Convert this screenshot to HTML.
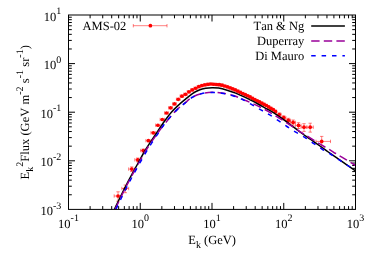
<!DOCTYPE html>
<html><head><meta charset="utf-8"><title>chart</title>
<style>html,body{margin:0;padding:0;background:#fff}svg{display:block;will-change:transform;transform:translateZ(0)}text{text-rendering:geometricPrecision;font-kerning:none}</style></head>
<body>
<svg width="374" height="262" viewBox="0 0 374 262">
<rect width="374" height="262" fill="#fff"/>
<path d="M90.10,209.40V206.10 M90.10,15.00V18.30 M102.73,209.40V206.10 M102.73,15.00V18.30 M111.70,209.40V206.10 M111.70,15.00V18.30 M118.65,209.40V206.10 M118.65,15.00V18.30 M124.33,209.40V206.10 M124.33,15.00V18.30 M129.14,209.40V206.10 M129.14,15.00V18.30 M133.30,209.40V206.10 M133.30,15.00V18.30 M136.97,209.40V206.10 M136.97,15.00V18.30 M140.25,209.40V202.90 M140.25,15.00V21.50 M161.85,209.40V206.10 M161.85,15.00V18.30 M174.48,209.40V206.10 M174.48,15.00V18.30 M183.45,209.40V206.10 M183.45,15.00V18.30 M190.40,209.40V206.10 M190.40,15.00V18.30 M196.08,209.40V206.10 M196.08,15.00V18.30 M200.89,209.40V206.10 M200.89,15.00V18.30 M205.05,209.40V206.10 M205.05,15.00V18.30 M208.72,209.40V206.10 M208.72,15.00V18.30 M212.00,209.40V202.90 M212.00,15.00V21.50 M233.60,209.40V206.10 M233.60,15.00V18.30 M246.23,209.40V206.10 M246.23,15.00V18.30 M255.20,209.40V206.10 M255.20,15.00V18.30 M262.15,209.40V206.10 M262.15,15.00V18.30 M267.83,209.40V206.10 M267.83,15.00V18.30 M272.64,209.40V206.10 M272.64,15.00V18.30 M276.80,209.40V206.10 M276.80,15.00V18.30 M280.47,209.40V206.10 M280.47,15.00V18.30 M283.75,209.40V202.90 M283.75,15.00V21.50 M305.35,209.40V206.10 M305.35,15.00V18.30 M317.98,209.40V206.10 M317.98,15.00V18.30 M326.95,209.40V206.10 M326.95,15.00V18.30 M333.90,209.40V206.10 M333.90,15.00V18.30 M339.58,209.40V206.10 M339.58,15.00V18.30 M344.39,209.40V206.10 M344.39,15.00V18.30 M348.55,209.40V206.10 M348.55,15.00V18.30 M352.22,209.40V206.10 M352.22,15.00V18.30 M68.50,194.77H71.80 M355.50,194.77H352.20 M68.50,186.21H71.80 M355.50,186.21H352.20 M68.50,180.14H71.80 M355.50,180.14H352.20 M68.50,175.43H71.80 M355.50,175.43H352.20 M68.50,171.58H71.80 M355.50,171.58H352.20 M68.50,168.33H71.80 M355.50,168.33H352.20 M68.50,165.51H71.80 M355.50,165.51H352.20 M68.50,163.02H71.80 M355.50,163.02H352.20 M68.50,160.80H75.00 M355.50,160.80H349.00 M68.50,146.17H71.80 M355.50,146.17H352.20 M68.50,137.61H71.80 M355.50,137.61H352.20 M68.50,131.54H71.80 M355.50,131.54H352.20 M68.50,126.83H71.80 M355.50,126.83H352.20 M68.50,122.98H71.80 M355.50,122.98H352.20 M68.50,119.73H71.80 M355.50,119.73H352.20 M68.50,116.91H71.80 M355.50,116.91H352.20 M68.50,114.42H71.80 M355.50,114.42H352.20 M68.50,112.20H75.00 M355.50,112.20H349.00 M68.50,97.57H71.80 M355.50,97.57H352.20 M68.50,89.01H71.80 M355.50,89.01H352.20 M68.50,82.94H71.80 M355.50,82.94H352.20 M68.50,78.23H71.80 M355.50,78.23H352.20 M68.50,74.38H71.80 M355.50,74.38H352.20 M68.50,71.13H71.80 M355.50,71.13H352.20 M68.50,68.31H71.80 M355.50,68.31H352.20 M68.50,65.82H71.80 M355.50,65.82H352.20 M68.50,63.60H75.00 M355.50,63.60H349.00 M68.50,48.97H71.80 M355.50,48.97H352.20 M68.50,40.41H71.80 M355.50,40.41H352.20 M68.50,34.34H71.80 M355.50,34.34H352.20 M68.50,29.63H71.80 M355.50,29.63H352.20 M68.50,25.78H71.80 M355.50,25.78H352.20 M68.50,22.53H71.80 M355.50,22.53H352.20 M68.50,19.71H71.80 M355.50,19.71H352.20 M68.50,17.22H71.80 M355.50,17.22H352.20" stroke="#000" stroke-width="1" fill="none"/>
<defs><clipPath id="c"><rect x="68.50" y="15.00" width="287.00" height="194.40"/></clipPath></defs>
<g clip-path="url(#c)">
<path d="M114.17,196.00H121.84 M114.17,194.30V197.70 M121.84,194.30V197.70 M118.04,191.80V201.25 M116.34,191.80H119.74 M116.34,201.25H119.74 M121.84,188.50H128.66 M121.84,186.80V190.20 M128.66,186.80V190.20 M125.28,185.00V192.70 M123.58,185.00H126.98 M123.58,192.70H126.98 M128.66,169.10H134.80 M128.66,167.40V170.80 M134.80,167.40V170.80 M131.76,166.90V171.56 M130.06,166.90H133.46 M130.06,171.56H133.46 M134.80,159.83H140.63 M134.80,158.13V161.53 M140.63,158.13V161.53 M137.74,158.03V161.80 M136.04,158.03H139.44 M136.04,161.80H139.44 M140.63,150.52H145.90 M140.63,148.82V152.22 M145.90,148.82V152.22 M143.29,149.02V152.14 M141.59,149.02H144.99 M141.59,152.14H144.99 M145.90,140.65H150.91 M145.90,138.95V142.35 M150.91,138.95V142.35 M150.91,132.82H155.64 M150.91,131.12V134.52 M155.64,131.12V134.52 M155.64,125.23H160.12 M155.64,123.53V126.93 M160.12,123.53V126.93 M160.12,119.51H164.49 M160.12,117.81V121.21 M164.49,117.81V121.21 M164.49,112.98H168.59 M164.49,111.28V114.68 M168.59,111.28V114.68 M168.59,107.81H172.57 M168.59,106.11V109.51 M172.57,106.11V109.51 M172.57,103.89H176.40 M172.57,102.19V105.59 M176.40,102.19V105.59 M176.40,99.29H180.08 M176.40,97.59V100.99 M180.08,97.59V100.99 M180.08,96.20H183.69 M180.08,94.50V97.90 M183.69,94.50V97.90 M183.69,94.31H187.21 M183.69,92.61V96.01 M187.21,92.61V96.01 M187.21,91.82H190.63 M187.21,90.12V93.52 M190.63,90.12V93.52 M190.63,89.95H193.93 M190.63,88.25V91.65 M193.93,88.25V91.65 M193.93,88.27H197.17 M193.93,86.57V89.97 M197.17,86.57V89.97 M197.17,86.68H200.34 M197.17,84.98V88.38 M200.34,84.98V88.38 M200.34,85.61H203.42 M200.34,83.91V87.31 M203.42,83.91V87.31 M203.42,84.80H206.45 M203.42,83.10V86.50 M206.45,83.10V86.50 M206.45,84.35H209.42 M206.45,82.65V86.05 M209.42,82.65V86.05 M209.42,84.01H212.32 M209.42,82.31V85.71 M212.32,82.31V85.71 M212.32,84.26H215.25 M212.32,82.56V85.96 M215.25,82.56V85.96 M215.25,84.51H217.93 M215.25,82.81V86.21 M217.93,82.81V86.21 M217.93,84.70H220.64 M217.93,83.00V86.40 M220.64,83.00V86.40 M220.64,85.18H223.34 M220.64,83.48V86.88 M223.34,83.48V86.88 M223.34,85.98H226.03 M223.34,84.28V87.68 M226.03,84.28V87.68 M226.03,86.80H228.69 M226.03,85.10V88.50 M228.69,85.10V88.50 M228.69,87.85H231.31 M228.69,86.15V89.55 M231.31,86.15V89.55 M231.31,88.87H233.88 M231.31,87.17V90.57 M233.88,87.17V90.57 M233.88,89.88H236.40 M233.88,88.18V91.58 M236.40,88.18V91.58 M236.40,91.06H238.99 M236.40,89.36V92.76 M238.99,89.36V92.76 M238.99,92.30H241.51 M238.99,90.60V94.00 M241.51,90.60V94.00 M241.51,93.49H243.95 M241.51,91.79V95.19 M243.95,91.79V95.19 M243.95,94.65H246.42 M243.95,92.95V96.35 M246.42,92.95V96.35 M246.42,95.75H248.80 M246.42,94.05V97.45 M248.80,94.05V97.45 M248.80,96.96H251.19 M248.80,95.26V98.66 M251.19,95.26V98.66 M251.19,98.25H253.58 M251.19,96.55V99.95 M253.58,96.55V99.95 M253.58,99.53H255.95 M253.58,97.83V101.23 M255.95,97.83V101.23 M255.95,100.81H258.29 M255.95,99.11V102.51 M258.29,99.11V102.51 M258.29,101.97H260.60 M258.29,100.27V103.67 M260.60,100.27V103.67 M260.60,103.13H262.93 M260.60,101.43V104.83 M262.93,101.43V104.83 M262.93,104.29H265.22 M262.93,102.59V105.99 M265.22,102.59V105.99 M265.22,105.50H267.50 M265.22,103.80V107.20 M267.50,103.80V107.20 M267.50,106.90H269.78 M267.50,105.20V108.60 M269.78,105.20V108.60 M269.78,108.30H272.08 M269.78,106.60V110.00 M272.08,106.60V110.00 M272.08,109.70H274.35 M272.08,108.00V111.40 M274.35,108.00V111.40 M274.35,111.38H276.63 M274.35,109.68V113.08 M276.63,109.68V113.08 M276.63,114.50H281.17 M276.63,112.80V116.20 M281.17,112.80V116.20 M279.20,112.90V116.23 M277.50,112.90H280.90 M277.50,116.23H280.90 M281.17,117.70H285.88 M281.17,116.00V119.40 M285.88,116.00V119.40 M283.70,115.80V119.79 M282.00,115.80H285.40 M282.00,119.79H285.40 M285.88,120.40H290.47 M285.88,118.70V122.10 M290.47,118.70V122.10 M288.30,118.30V122.73 M286.60,118.30H290.00 M286.60,122.73H290.00 M290.47,122.40H295.56 M290.47,120.70V124.10 M295.56,120.70V124.10 M293.10,120.00V125.11 M291.40,120.00H294.80 M291.40,125.11H294.80 M295.56,125.40H301.02 M295.56,123.70V127.10 M301.02,123.70V127.10 M298.50,122.70V128.50 M296.80,122.70H300.20 M296.80,128.50H300.20 M301.02,127.20H306.88 M301.02,125.50V128.90 M306.88,125.50V128.90 M304.00,123.70V131.40 M302.30,123.70H305.70 M302.30,131.40H305.70 M306.88,127.20H313.29 M306.88,125.50V128.90 M313.29,125.50V128.90 M310.20,123.20V132.14 M308.50,123.20H311.90 M308.50,132.14H311.90 M316.00,141.40H330.50 M316.00,139.70V143.10 M330.50,139.70V143.10 M321.70,136.40V147.96 M320.00,136.40H323.40 M320.00,147.96H323.40" stroke="#ff0000" stroke-width="0.5" fill="none"/>
<circle cx="118.04" cy="196.00" r="1.85" fill="#ff0000"/>
<circle cx="125.28" cy="188.50" r="1.85" fill="#ff0000"/>
<circle cx="131.76" cy="169.10" r="1.85" fill="#ff0000"/>
<circle cx="137.74" cy="159.83" r="1.85" fill="#ff0000"/>
<circle cx="143.29" cy="150.52" r="1.85" fill="#ff0000"/>
<circle cx="148.42" cy="140.65" r="1.85" fill="#ff0000"/>
<circle cx="153.29" cy="132.82" r="1.85" fill="#ff0000"/>
<circle cx="157.89" cy="125.23" r="1.85" fill="#ff0000"/>
<circle cx="162.31" cy="119.51" r="1.85" fill="#ff0000"/>
<circle cx="166.55" cy="112.98" r="1.85" fill="#ff0000"/>
<circle cx="170.59" cy="107.81" r="1.85" fill="#ff0000"/>
<circle cx="174.49" cy="103.89" r="1.85" fill="#ff0000"/>
<circle cx="178.25" cy="99.29" r="1.85" fill="#ff0000"/>
<circle cx="181.89" cy="96.20" r="1.85" fill="#ff0000"/>
<circle cx="185.46" cy="94.31" r="1.85" fill="#ff0000"/>
<circle cx="188.92" cy="91.82" r="1.85" fill="#ff0000"/>
<circle cx="192.28" cy="89.95" r="1.85" fill="#ff0000"/>
<circle cx="195.56" cy="88.27" r="1.85" fill="#ff0000"/>
<circle cx="198.76" cy="86.68" r="1.85" fill="#ff0000"/>
<circle cx="201.88" cy="85.61" r="1.85" fill="#ff0000"/>
<circle cx="204.94" cy="84.80" r="1.85" fill="#ff0000"/>
<circle cx="207.94" cy="84.35" r="1.85" fill="#ff0000"/>
<circle cx="210.87" cy="84.01" r="1.85" fill="#ff0000"/>
<circle cx="213.78" cy="84.26" r="1.85" fill="#ff0000"/>
<circle cx="216.59" cy="84.51" r="1.85" fill="#ff0000"/>
<circle cx="219.28" cy="84.70" r="1.85" fill="#ff0000"/>
<circle cx="221.99" cy="85.18" r="1.85" fill="#ff0000"/>
<circle cx="224.69" cy="85.98" r="1.85" fill="#ff0000"/>
<circle cx="227.36" cy="86.80" r="1.85" fill="#ff0000"/>
<circle cx="230.00" cy="87.85" r="1.85" fill="#ff0000"/>
<circle cx="232.60" cy="88.87" r="1.85" fill="#ff0000"/>
<circle cx="235.14" cy="89.88" r="1.85" fill="#ff0000"/>
<circle cx="237.70" cy="91.06" r="1.85" fill="#ff0000"/>
<circle cx="240.25" cy="92.30" r="1.85" fill="#ff0000"/>
<circle cx="242.73" cy="93.49" r="1.85" fill="#ff0000"/>
<circle cx="245.18" cy="94.65" r="1.85" fill="#ff0000"/>
<circle cx="247.61" cy="95.75" r="1.85" fill="#ff0000"/>
<circle cx="250.00" cy="96.96" r="1.85" fill="#ff0000"/>
<circle cx="252.39" cy="98.25" r="1.85" fill="#ff0000"/>
<circle cx="254.76" cy="99.53" r="1.85" fill="#ff0000"/>
<circle cx="257.12" cy="100.81" r="1.85" fill="#ff0000"/>
<circle cx="259.44" cy="101.97" r="1.85" fill="#ff0000"/>
<circle cx="261.77" cy="103.13" r="1.85" fill="#ff0000"/>
<circle cx="264.08" cy="104.29" r="1.85" fill="#ff0000"/>
<circle cx="266.36" cy="105.50" r="1.85" fill="#ff0000"/>
<circle cx="268.64" cy="106.90" r="1.85" fill="#ff0000"/>
<circle cx="270.93" cy="108.30" r="1.85" fill="#ff0000"/>
<circle cx="273.22" cy="109.70" r="1.85" fill="#ff0000"/>
<circle cx="275.49" cy="111.38" r="1.85" fill="#ff0000"/>
<circle cx="279.20" cy="114.50" r="1.85" fill="#ff0000"/>
<circle cx="283.70" cy="117.70" r="1.85" fill="#ff0000"/>
<circle cx="288.30" cy="120.40" r="1.85" fill="#ff0000"/>
<circle cx="293.10" cy="122.40" r="1.85" fill="#ff0000"/>
<circle cx="298.50" cy="125.40" r="1.85" fill="#ff0000"/>
<circle cx="304.00" cy="127.20" r="1.85" fill="#ff0000"/>
<circle cx="310.20" cy="127.20" r="1.85" fill="#ff0000"/>
<circle cx="321.70" cy="141.40" r="1.85" fill="#ff0000"/>
<path d="M114.40,209.40 C115.43,207.25 118.48,200.73 120.55,196.50 C122.62,192.27 125.24,187.08 126.80,184.00 C128.36,180.92 128.10,181.33 129.90,178.00 C131.70,174.67 135.02,168.67 137.60,164.00 C140.18,159.33 142.35,155.00 145.40,150.00 C148.45,145.00 152.82,138.67 155.90,134.00 C158.98,129.33 161.32,125.63 163.90,122.00 C166.48,118.37 168.90,115.08 171.40,112.20 C173.90,109.32 176.58,106.85 178.90,104.70 C181.22,102.55 182.98,101.18 185.30,99.30 C187.62,97.42 190.47,94.95 192.80,93.40 C195.13,91.85 197.15,90.85 199.30,90.00 C201.45,89.15 203.57,88.68 205.70,88.30 C207.83,87.92 209.95,87.73 212.10,87.70 C214.25,87.67 216.10,87.68 218.60,88.10 C221.10,88.52 224.25,89.37 227.10,90.20 C229.95,91.03 232.85,91.98 235.70,93.10 C238.55,94.22 241.82,95.78 244.20,96.90 C246.58,98.02 247.85,98.70 250.00,99.80 C252.15,100.90 254.48,102.08 257.10,103.50 C259.72,104.92 262.85,106.70 265.70,108.30 C268.55,109.90 272.07,111.82 274.20,113.10 C276.33,114.38 276.20,114.38 278.50,116.00 C280.80,117.62 284.42,120.13 288.00,122.80 C291.58,125.47 296.22,129.22 300.00,132.00 C303.78,134.78 307.13,137.00 310.70,139.50 C314.27,142.00 318.47,144.92 321.40,147.00 C324.33,149.08 325.92,150.30 328.30,152.00 C330.68,153.70 332.68,155.08 335.70,157.20 C338.72,159.32 343.10,162.43 346.40,164.70 C349.70,166.97 353.98,169.78 355.50,170.80" stroke="#000" stroke-width="1.5" fill="none"/>
<path d="M115.10,209.40 C116.12,207.25 119.18,200.73 121.25,196.50 C123.32,192.27 125.94,187.08 127.50,184.00 C129.06,180.92 128.80,181.33 130.60,178.00 C132.40,174.67 135.70,168.67 138.30,164.00 C140.90,159.33 143.08,155.00 146.20,150.00 C149.32,145.00 153.60,138.75 157.00,134.00 C160.40,129.25 163.40,125.43 166.60,121.50 C169.80,117.57 173.08,113.55 176.20,110.40 C179.32,107.25 182.53,104.85 185.30,102.60 C188.07,100.35 190.12,98.40 192.80,96.90 C195.48,95.40 198.18,94.37 201.40,93.60 C204.62,92.83 208.70,92.40 212.10,92.30 C215.50,92.20 218.23,92.47 221.80,93.00 C225.37,93.53 230.47,94.63 233.50,95.50 C236.53,96.37 237.85,97.32 240.00,98.20 C242.15,99.08 243.90,99.73 246.40,100.80 C248.90,101.87 251.97,103.17 255.00,104.60 C258.03,106.03 261.40,107.67 264.60,109.40 C267.80,111.13 270.63,112.83 274.20,115.00 C277.77,117.17 281.70,119.63 286.00,122.40 C290.30,125.17 296.23,129.17 300.00,131.60 C303.77,134.03 305.38,134.98 308.60,137.00 C311.82,139.02 315.73,141.55 319.30,143.70 C322.87,145.85 327.27,148.27 330.00,149.90 C332.73,151.53 332.97,151.83 335.70,153.50 C338.43,155.17 343.10,157.90 346.40,159.90 C349.70,161.90 353.98,164.57 355.50,165.50" stroke="#990099" stroke-width="1.5" fill="none" stroke-dasharray="8.4,4.2"/>
<path d="M115.90,209.40 C116.93,207.25 119.98,200.73 122.05,196.50 C124.12,192.27 126.73,187.08 128.30,184.00 C129.88,180.92 129.67,181.33 131.50,178.00 C133.33,174.67 136.67,168.67 139.30,164.00 C141.93,159.33 144.23,155.00 147.30,150.00 C150.37,145.00 154.58,138.67 157.70,134.00 C160.82,129.33 162.92,125.90 166.00,122.00 C169.08,118.10 172.98,113.80 176.20,110.60 C179.42,107.40 182.53,105.07 185.30,102.80 C188.07,100.53 190.12,98.52 192.80,97.00 C195.48,95.48 198.18,94.47 201.40,93.70 C204.62,92.93 208.70,92.48 212.10,92.40 C215.50,92.32 218.23,92.60 221.80,93.20 C225.37,93.80 229.93,94.90 233.50,96.00 C237.07,97.10 240.15,98.37 243.20,99.80 C246.25,101.23 248.85,102.92 251.80,104.60 C254.75,106.28 257.97,108.22 260.90,109.90 C263.83,111.58 266.42,112.87 269.40,114.70 C272.38,116.53 275.88,118.93 278.80,120.90 C281.72,122.87 284.08,124.63 286.90,126.50 C289.72,128.37 292.72,130.28 295.70,132.10 C298.68,133.92 301.85,135.53 304.80,137.40 C307.75,139.27 310.55,141.37 313.40,143.30 C316.25,145.23 319.08,147.22 321.90,149.00 C324.72,150.78 327.28,152.10 330.30,154.00 C333.32,155.90 336.97,158.40 340.00,160.40 C343.03,162.40 345.92,164.27 348.50,166.00 C351.08,167.73 354.33,170.00 355.50,170.80" stroke="#0000ff" stroke-width="1.5" fill="none" stroke-dasharray="4.5,5.9"/>
</g>
<rect x="68.50" y="15.00" width="287.00" height="194.40" fill="none" stroke="#000" stroke-width="1"/>
<path d="M133.3,25.7H167 M133.3,24V27.4 M167,24V27.4" stroke="#ff0000" stroke-width="0.5" fill="none"/>
<circle cx="150.4" cy="25.7" r="1.85" fill="#ff0000"/>
<path d="M311.2,25.9H344.9" stroke="#000" stroke-width="1.5"/>
<path d="M311.2,40.9H344.9" stroke="#990099" stroke-width="1.5" stroke-dasharray="8.4,4.2"/>
<path d="M311.2,55.8H344.9" stroke="#0000ff" stroke-width="1.5" stroke-dasharray="4.5,5.9"/>
<g style="font-family:'Liberation Serif',serif;font-size:12.5px;fill:#000">
<text x="82.6" y="30.0">AMS-02</text>
<text x="304.2" y="29.8" text-anchor="end">Tan &amp; Ng</text>
<text x="304.2" y="44.7" text-anchor="end">Duperray</text>
<text x="304.2" y="59.7" text-anchor="end">Di Mauro</text>
<text x="61.30" y="214.95" text-anchor="end">10<tspan dy="-6.4" font-size="10px">-3</tspan></text>
<text x="61.30" y="166.35" text-anchor="end">10<tspan dy="-6.4" font-size="10px">-2</tspan></text>
<text x="61.30" y="117.75" text-anchor="end">10<tspan dy="-6.4" font-size="10px">-1</tspan></text>
<text x="61.30" y="69.15" text-anchor="end">10<tspan dy="-6.4" font-size="10px">0</tspan></text>
<text x="61.30" y="20.55" text-anchor="end">10<tspan dy="-6.4" font-size="10px">1</tspan></text>
<text x="68.50" y="227.70" text-anchor="middle">10<tspan dy="-6.4" font-size="10px">-1</tspan></text>
<text x="140.25" y="227.70" text-anchor="middle">10<tspan dy="-6.4" font-size="10px">0</tspan></text>
<text x="212.00" y="227.70" text-anchor="middle">10<tspan dy="-6.4" font-size="10px">1</tspan></text>
<text x="283.75" y="227.70" text-anchor="middle">10<tspan dy="-6.4" font-size="10px">2</tspan></text>
<text x="355.50" y="227.70" text-anchor="middle">10<tspan dy="-6.4" font-size="10px">3</tspan></text>
<text x="188.3" y="243.9">E<tspan dy="3.6" font-size="10px">k</tspan><tspan dy="-3.6"> (GeV)</tspan></text>
<g transform="translate(29.2,0) rotate(-90)">
<text x="-179.4" y="0" word-spacing="0.15">E<tspan dy="3.7" font-size="10px">k</tspan><tspan dy="-9.9" font-size="10px">2</tspan><tspan dy="6.2">Flux (GeV m</tspan><tspan dy="-6.2" font-size="10px">-2</tspan><tspan dy="6.2"> s</tspan><tspan dy="-6.2" font-size="10px">-1</tspan><tspan dy="6.2"> sr</tspan><tspan dy="-6.2" font-size="10px">-1</tspan><tspan dy="6.2">)</tspan></text>
</g>
</g>
</svg>
</body></html>
